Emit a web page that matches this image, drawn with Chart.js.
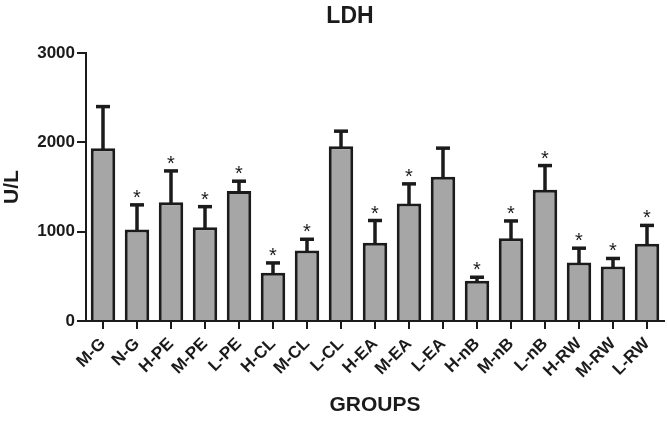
<!DOCTYPE html>
<html>
<head>
<meta charset="utf-8">
<script src="https://cdn.jsdelivr.net/npm/chart.js@4.4.1/dist/chart.umd.min.js"></script>
<style>
  html, body { margin: 0; padding: 0; background: #fff; }
  #wrap { width: 668px; height: 421px; }
</style>
</head>
<body>
<div id="wrap"><canvas id="chart" width="668" height="421"></canvas></div>
<script>
// LDH values per group (mean, upper error)
const groups = ['M-G', 'N-G', 'H-PE', 'M-PE', 'L-PE', 'H-CL', 'M-CL', 'L-CL', 'H-EA',
                'M-EA', 'L-EA', 'H-nB', 'M-nB', 'L-nB', 'H-RW', 'M-RW', 'L-RW'];
const ldhMean = [1935, 1025, 1330, 1050, 1455, 540, 790, 1955, 875,
                 1315, 1615, 450, 925, 1470, 655, 610, 865];
const ldhError = [465, 275, 350, 230, 110, 110, 125, 170, 250,
                  220, 320, 40, 195, 270, 160, 90, 205];
// groups marked with an asterisk
const significant = [false, true, true, true, true, true, true, false, true,
                     true, false, true, true, true, true, true, true];
const yTicks = [0, 1000, 2000, 3000];
const chartTitle = 'LDH';

const fontFamily = '"Liberation Sans", Arial, Helvetica, sans-serif';
const ink = '#1b1b1b';

// title sits a bit left of the plot centre in the original
const titlePlugin = {
    id: 'plotTitle',
    afterDraw(chart) {
        const ctx = chart.ctx;
        ctx.save();
        ctx.fillStyle = ink;
        ctx.font = 'bold 23px ' + fontFamily;
        ctx.textAlign = 'center';
        ctx.textBaseline = 'alphabetic';
        ctx.fillText(chartTitle, 350, 23);
        ctx.restore();
    }
};

// error bars and asterisks on top of the bars
const errorBarPlugin = {
    id: 'errorBars',
    afterDatasetsDraw(chart) {
        const ctx = chart.ctx;
        const yScale = chart.scales.y;
        const meta = chart.getDatasetMeta(0);
        ctx.save();
        ctx.strokeStyle = ink;
        ctx.fillStyle = ink;
        ctx.lineWidth = 3.5;
        ctx.lineCap = 'butt';
        meta.data.forEach((bar, i) => {
            const x = bar.x;
            const yTop = yScale.getPixelForValue(ldhMean[i] + ldhError[i]);
            const yBase = bar.y + 1;
            ctx.beginPath();
            ctx.moveTo(x, yBase);
            ctx.lineTo(x, yTop);
            ctx.stroke();
            ctx.beginPath();
            ctx.moveTo(x - 7, yTop);
            ctx.lineTo(x + 7, yTop);
            ctx.stroke();
            if (significant[i]) {
                ctx.font = '20px ' + fontFamily;
                ctx.textAlign = 'center';
                ctx.textBaseline = 'alphabetic';
                ctx.fillText('*', x, yTop - 1);
            }
        });
        ctx.restore();
    }
};

const ctx = document.getElementById('chart').getContext('2d');
new Chart(ctx, {
    type: 'bar',
    data: {
        labels: groups,
        datasets: [{
            label: 'LDH',
            data: ldhMean,
            backgroundColor: '#a6a6a6',
            borderColor: ink,
            borderWidth: 3,
            borderSkipped: 'bottom',
            categoryPercentage: 1.0,
            barPercentage: 0.72
        }]
    },
    options: {
        responsive: false,
        devicePixelRatio: 1,
        animation: false,
        layout: { padding: { top: 53, right: 4, left: 0, bottom: 0 } },
        plugins: {
            legend: { display: false },
            tooltip: { enabled: false },
            title: { display: false }
        },
        scales: {
            x: {
                grid: {
                    display: true,
                    drawOnChartArea: false,
                    drawTicks: true,
                    tickLength: 8,
                    tickColor: ink,
                    lineWidth: 2,
                    offset: false
                },
                border: { display: true, color: ink, width: 2 },
                ticks: {
                    color: ink,
                    minRotation: 45,
                    maxRotation: 45,
                    autoSkip: false,
                    padding: 5,
                    font: { family: fontFamily, size: 17, weight: 'bold' }
                },
                title: {
                    display: true,
                    text: 'GROUPS',
                    color: ink,
                    font: { family: fontFamily, size: 21, weight: 'bold' },
                    padding: { top: 4, bottom: 3 }
                },
                afterFit(scale) { scale.height = 100; }
            },
            y: {
                min: 0,
                max: 3000,
                afterBuildTicks(scale) {
                    scale.ticks = yTicks.map(v => ({ value: v }));
                },
                grid: {
                    display: true,
                    drawOnChartArea: false,
                    drawTicks: true,
                    tickLength: 9,
                    tickColor: ink,
                    lineWidth: 2
                },
                border: { display: true, color: ink, width: 2 },
                ticks: {
                    color: ink,
                    padding: 2,
                    font: { family: fontFamily, size: 17, weight: 'bold' },
                    callback: value => String(value)
                },
                title: {
                    display: true,
                    text: 'U/L',
                    color: ink,
                    font: { family: fontFamily, size: 21, weight: 'bold' },
                    padding: { top: 0, bottom: 4 }
                },
                afterFit(scale) { scale.width = 86; }
            }
        }
    },
    plugins: [errorBarPlugin, titlePlugin]
});
</script>
</body>
</html>
